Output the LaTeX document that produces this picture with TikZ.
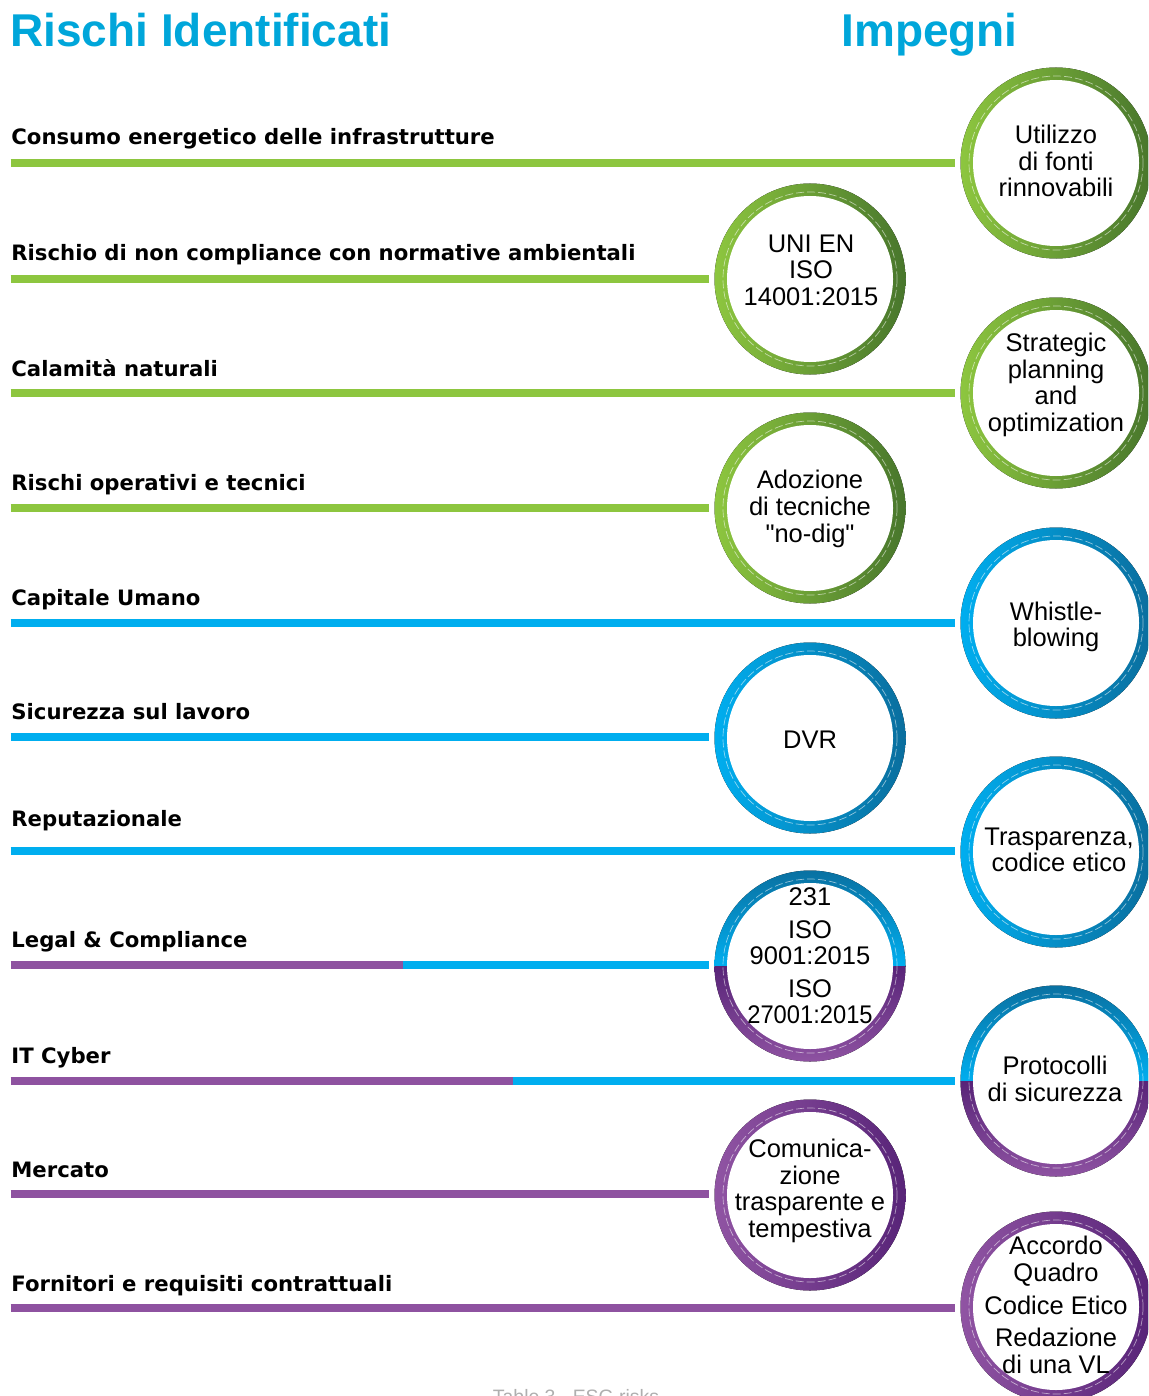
\documentclass[tikz,border=0pt]{standalone}
\usepackage{fontspec}
\setmainfont{Liberation Sans}
\newfontfamily\circfont{Liberation Sans}
\newfontfamily\lblfont{DejaVu Sans}
\usetikzlibrary{calc}
\definecolor{gL}{RGB}{141,198,63}
\definecolor{gD}{RGB}{72,118,44}
\definecolor{bL}{RGB}{0,174,239}
\definecolor{bD}{RGB}{10,110,158}
\definecolor{pL}{RGB}{144,84,163}
\definecolor{pD}{RGB}{88,36,120}
\definecolor{lineP}{RGB}{142,82,160}
\definecolor{titleblue}{RGB}{0,166,218}
\definecolor{capgray}{RGB}{175,175,175}
\tikzset{
  riskline/.style={line width=4pt},
  risklabel/.style={anchor=base west, inner sep=0pt, font=\lblfont\bfseries\fontsize{10.6}{12}\selectfont},
  commit/.style={circle, minimum size=95.5pt, inner sep=0pt},
  committext/.style={align=center, inner sep=0pt, font=\circfont\fontsize{12.75}{13.3}\selectfont},
  titletext/.style={anchor=base west, inner sep=0pt, text=titleblue, font=\bfseries\fontsize{23}{27}\selectfont},
}
\newcommand\ringmono[3]{%
  \begin{scope}[shift={(#1.center)}]
    \fill[left color=#2, middle color=#2!65!#3, right color=#3] (0,0) circle[radius=95.5];
    \fill[white] (0,0) circle[radius=83];
    \draw[white, opacity=.55, line width=.35pt, dash pattern=on 4pt off 1.5pt] (0,0) circle[radius=87];
  \end{scope}}
\newcommand\ringsplit[1]{%
  \begin{scope}[shift={(#1.center)}]
    \begin{scope}
      \clip (0,0) circle[radius=95.5];
      \fill[top color=bD, bottom color=bL] (-100,-100) rectangle (100,0);
      \fill[top color=pD, bottom color=pL] (-100,0) rectangle (100,100);
    \end{scope}
    \fill[white] (0,0) circle[radius=83];
    \draw[white, opacity=.55, line width=.35pt, dash pattern=on 4pt off 1.5pt] (0,0) circle[radius=87];
  \end{scope}}
\begin{document}
\begin{tikzpicture}[x=0.5pt, y=-0.5pt]
\clip (0,0) rectangle (1148,1396);
\fill[white] (0,0) rectangle (1148,1396);

% titles
\node[titletext] (t1) at (10,47) {Rischi Identificati};
\node[titletext] (t2) at (841,47) {Impegni};

% commitment circles
\node[commit] (R1) at (1056,163) {};
\node[commit] (R2) at (1056,393) {};
\node[commit] (R3) at (1056,623) {};
\node[commit] (R4) at (1056,852) {};
\node[commit] (R5) at (1056,1081) {};
\node[commit] (R6) at (1056,1307) {};
\node[commit] (C1) at (810,279) {};
\node[commit] (C2) at (810,508) {};
\node[commit] (C3) at (810,738) {};
\node[commit] (C4) at (810,966) {};
\node[commit] (C5) at (810,1195) {};

\ringmono{R1}{gL}{gD}
\ringmono{R2}{gL}{gD}
\ringmono{R3}{bL}{bD}
\ringmono{R4}{bL}{bD}
\ringsplit{R5}
\ringmono{R6}{pL}{pD}
\ringmono{C1}{gL}{gD}
\ringmono{C2}{gL}{gD}
\ringmono{C3}{bL}{bD}
\ringsplit{C4}
\ringmono{C5}{pL}{pD}

% circle texts
\node[committext] (tR1) at (1056,161) {Utilizzo\\di fonti\\rinnovabili};
\node[committext] (tR2) at (1056,385) {Strategic\\planning\\and\\optimization};
\node[committext] (tR3) at (1056,627) {Whistle-\\blowing};
\node[committext] (tR4) at (1059,850) {Trasparenza,\\codice etico};
\node[committext] (tR5) at (1055,1079) {Protocolli\\di sicurezza};
\node[committext] (tR6) at (1056,1305) {Accordo\\Quadro\\[3pt]Codice Etico\\[3pt]Redazione\\di una VL};
\node[committext] (tC1) at (811,270) {UNI EN\\ISO\\14001:2015};
\node[committext] (tC2) at (810,509) {Adozione\\di tecniche\\"no-dig"};
\node[committext] (tC3) at (810,740) {DVR};
\node[committext] (tC4) at (810,956) {231\\[3pt]ISO\\9001:2015\\[3pt]ISO\\\scalebox{0.93}[1]{27001:2015}};
\node[committext] (tC5) at (810,1191) {Comunica-\\zione\\trasparente e\\tempestiva};

% risk line start points
\coordinate (s1) at (10.5,163);
\coordinate (s2) at (10.5,279);
\coordinate (s3) at (10.5,393);
\coordinate (s4) at (10.5,508);
\coordinate (s5) at (10.5,623);
\coordinate (s6) at (10.5,737);
\coordinate (s7) at (10.5,851);
\coordinate (s8) at (10.5,965);
\coordinate (m8) at (403,965);
\coordinate (s9) at (10.5,1081);
\coordinate (m9) at (513,1081);
\coordinate (s10) at (10.5,1194);
\coordinate (s11) at (10.5,1308);

% risk lines
\draw[riskline, gL] (s1) -- ([xshift=-2.75pt]R1.west |- s1);
\draw[riskline, gL] (s2) -- ([xshift=-2.75pt]C1.west |- s2);
\draw[riskline, gL] (s3) -- ([xshift=-2.75pt]R2.west |- s3);
\draw[riskline, gL] (s4) -- ([xshift=-2.75pt]C2.west |- s4);
\draw[riskline, bL] (s5) -- ([xshift=-2.75pt]R3.west |- s5);
\draw[riskline, bL] (s6) -- ([xshift=-2.75pt]C3.west |- s6);
\draw[riskline, bL] (s7) -- ([xshift=-2.75pt]R4.west |- s7);
\draw[riskline, lineP] (s8) -- (m8);
\draw[riskline, bL] (m8) -- ([xshift=-2.75pt]C4.west |- s8);
\draw[riskline, lineP] (s9) -- (m9);
\draw[riskline, bL] (m9) -- ([xshift=-2.75pt]R5.west |- s9);
\draw[riskline, lineP] (s10) -- ([xshift=-2.75pt]C5.west |- s10);
\draw[riskline, lineP] (s11) -- ([xshift=-2.75pt]R6.west |- s11);

% risk labels
\node[risklabel] (l1) at (11,145) {Consumo energetico delle infrastrutture};
\node[risklabel] (l2) at (11,261) {Rischio di non compliance con normative ambientali};
\node[risklabel] (l3) at (11,376) {Calamità naturali};
\node[risklabel] (l4) at (11,490) {Rischi operativi e tecnici};
\node[risklabel] (l5) at (11,605) {Capitale Umano};
\node[risklabel] (l6) at (11,719) {Sicurezza sul lavoro};
\node[risklabel] (l7) at (11,826) {Reputazionale};
\node[risklabel] (l8) at (11,947) {Legal \& Compliance};
\node[risklabel] (l9) at (11,1063) {IT Cyber};
\node[risklabel] (l10) at (11,1177) {Mercato};
\node[risklabel] (l11) at (11,1291) {Fornitori e requisiti contrattuali};

% caption (cut at the bottom edge, as in the reference)
\node[anchor=base, inner sep=0pt, text=capgray, font=\fontsize{9.7}{11}\selectfont] (cap) at (576,1403) {Table 3 - ESG risks};
\end{tikzpicture}
\end{document}
